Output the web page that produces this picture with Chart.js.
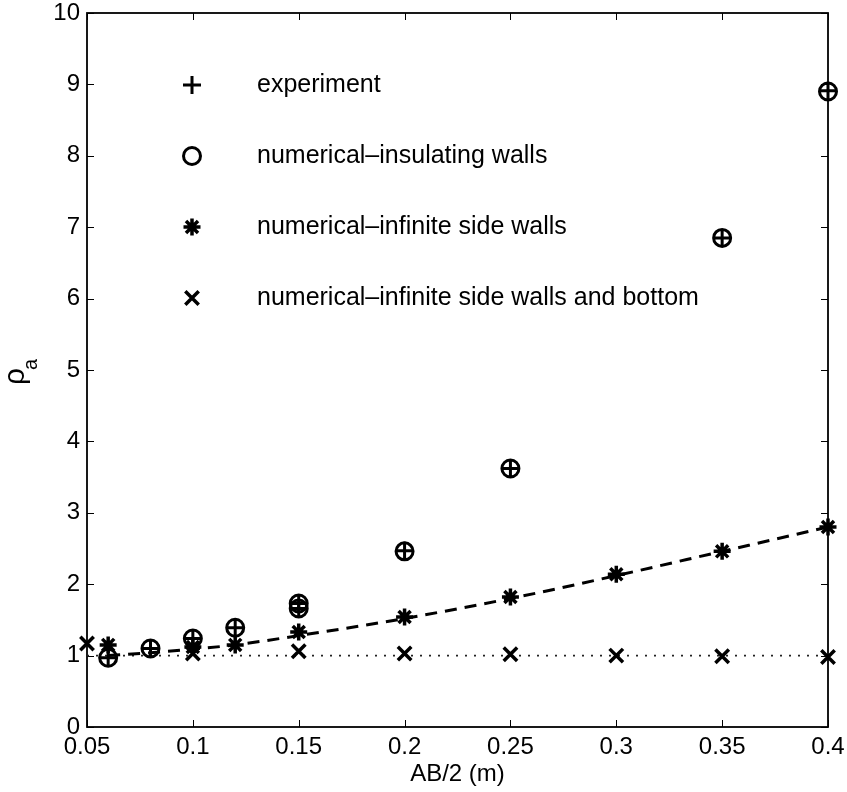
<!DOCTYPE html>
<html>
<head>
<meta charset="utf-8">
<script src="https://cdn.jsdelivr.net/npm/chart.js@4"></script>
<style>
  body { margin: 0; background: #fff; }
  #wrap { width: 847px; height: 792px; }
</style>
</head>
<body>
<div id="wrap"><canvas id="myChartRho"></canvas></div>
<script>
// values
const xTicks = [0.05, 0.1, 0.15, 0.2, 0.25, 0.3, 0.35, 0.4];
const yTicks = [0, 1, 2, 3, 4, 5, 6, 7, 8, 9, 10];

const expX = [0.06, 0.08, 0.1, 0.12, 0.15, 0.15, 0.2, 0.25, 0.35, 0.4];
const expY = [0.97, 1.10, 1.24, 1.39, 1.73, 1.66, 2.47, 3.62, 6.85, 8.91];

const insX = [0.06, 0.08, 0.1, 0.12, 0.15, 0.15, 0.2, 0.25, 0.35, 0.4];
const insY = [0.97, 1.10, 1.24, 1.39, 1.73, 1.66, 2.46, 3.62, 6.85, 8.90];

const sideX = [0.06, 0.1, 0.12, 0.15, 0.2, 0.25, 0.3, 0.35, 0.4];
const sideY = [1.15, 1.12, 1.15, 1.33, 1.54, 1.82, 2.14, 2.46, 2.80];

const bottomX = [0.05, 0.1, 0.15, 0.2, 0.25, 0.3, 0.35, 0.4];
const bottomY = [1.17, 1.03, 1.06, 1.03, 1.02, 1.00, 0.99, 0.98];

const curveX = [0.06, 0.08, 0.1, 0.12, 0.15, 0.2, 0.25, 0.3, 0.35, 0.4];
const curveY = [1.00, 1.04, 1.09, 1.15, 1.28, 1.52, 1.80, 2.12, 2.46, 2.80];

const flatX = [0.05, 0.4];
const flatY = [1, 1];

const legendNames = [
  "experiment",
  "numerical\u2013insulating walls",
  "numerical\u2013infinite side walls",
  "numerical\u2013infinite side walls and bottom",
];

const pts = (xs, ys) => xs.map((x, i) => ({ x: x, y: ys[i] }));
const FONT = "'Liberation Sans', Arial, Helvetica, sans-serif";

const markers = [
  { style: "cross", radius: 9, width: 3 },
  { style: "circle", radius: 8.5, width: 3 },
  { style: "star", radius: 8.5, width: 3.5 },
  { style: "crossRot", radius: 9.5, width: 3.5 },
];

function markerSet(label, xs, ys, m) {
  return {
    label: label,
    data: pts(xs, ys),
    pointStyle: m.style,
    pointRadius: m.radius,
    pointBorderWidth: m.width,
    pointBorderColor: "#000",
    pointBackgroundColor: "rgba(0,0,0,0)",
    showLine: false,
    clip: false,
  };
}

// box, inward ticks, legend and y title
const framePlugin = {
  id: "frame",
  beforeDatasetsDraw(chart) {
    const { ctx, chartArea: a, scales } = chart;
    ctx.save();
    ctx.strokeStyle = "#000";
    ctx.lineWidth = 1;
    ctx.beginPath();
    xTicks.forEach((v) => {
      const px = Math.round(scales.x.getPixelForValue(v)) + 0.5;
      ctx.moveTo(px, a.bottom); ctx.lineTo(px, a.bottom - 7);
      ctx.moveTo(px, a.top); ctx.lineTo(px, a.top + 7);
    });
    yTicks.forEach((v) => {
      const py = Math.round(scales.y.getPixelForValue(v)) + 0.5;
      ctx.moveTo(a.left, py); ctx.lineTo(a.left + 7, py);
      ctx.moveTo(a.right, py); ctx.lineTo(a.right - 7, py);
    });
    ctx.stroke();
    ctx.lineWidth = 1.8;
    ctx.strokeRect(a.left, a.top, a.right - a.left, a.bottom - a.top);
    ctx.restore();
  },
  afterDraw(chart) {
    const { ctx } = chart;
    ctx.save();
    ctx.fillStyle = "#000";
    ctx.strokeStyle = "#000";
    ctx.font = "25px " + FONT;
    ctx.textBaseline = "middle";
    legendNames.forEach((name, i) => {
      const y = 85 + i * 71;
      const m = markers[i];
      ctx.lineWidth = m.width;
      ctx.fillStyle = "rgba(0,0,0,0)";
      Chart.helpers.drawPoint(ctx, { pointStyle: m.style, radius: m.radius, rotation: 0, borderWidth: m.width }, 192, y);
      ctx.fillStyle = "#000";
      ctx.fillText(name, 257, y);
    });
    // y axis title: rho with subscript a
    ctx.rotate(-Math.PI / 2);
    ctx.textBaseline = "alphabetic";
    ctx.font = "30px " + FONT;
    ctx.fillText("\u03c1", -385, 24);
    ctx.font = "20px " + FONT;
    ctx.fillText("a", -370, 37);
    ctx.restore();
  },
};

const ctx = document.getElementById("myChartRho").getContext("2d");
new Chart(ctx, {
  type: "scatter",
  data: {
    datasets: [
      markerSet(legendNames[0], expX, expY, markers[0]),
      markerSet(legendNames[1], insX, insY, markers[1]),
      markerSet(legendNames[2], sideX, sideY, markers[2]),
      markerSet(legendNames[3], bottomX, bottomY, markers[3]),
      {
        label: "curve",
        data: pts(curveX, curveY),
        showLine: true,
        borderColor: "#000",
        borderWidth: 3,
        borderDash: [12, 8],
        pointRadius: 0,
        cubicInterpolationMode: "monotone",
      },
      {
        label: "flat",
        data: pts(flatX, flatY),
        showLine: true,
        borderColor: "#222",
        borderWidth: 1.8,
        borderDash: [2, 7],
        pointRadius: 0,
      },
    ],
  },
  options: {
    responsive: true,
    maintainAspectRatio: false,
    animation: false,
    events: [],
    layout: { padding: { left: 0, top: 12, right: 19, bottom: 0 } },
    plugins: {
      legend: { display: false },
      tooltip: { enabled: false },
    },
    scales: {
      x: {
        type: "linear",
        min: 0.05,
        max: 0.4,
        afterBuildTicks: (s) => { s.ticks = xTicks.map((v) => ({ value: v })); },
        afterFit: (s) => { s.height = 65; s.paddingLeft = 0; s.paddingRight = 0; },
        grid: { display: false, drawTicks: false },
        border: { display: false },
        ticks: {
          padding: 6,
          maxRotation: 0,
          autoSkip: false,
          color: "#000",
          font: { family: FONT, size: 24 },
          callback: (v) => String(Number(v.toFixed(2))),
        },
        title: {
          display: true,
          text: "AB/2 (m)",
          color: "#000",
          font: { family: FONT, size: 24 },
          padding: { top: 0, bottom: 3 },
        },
      },
      y: {
        type: "linear",
        min: 0,
        max: 10,
        afterBuildTicks: (s) => { s.ticks = yTicks.map((v) => ({ value: v })); },
        afterFit: (s) => { s.width = 87; s.paddingTop = 0; s.paddingBottom = 0; },
        grid: { display: false, drawTicks: false },
        border: { display: false },
        ticks: {
          padding: 7,
          color: "#000",
          font: { family: FONT, size: 24 },
        },
      },
    },
  },
  plugins: [framePlugin],
});
</script>
</body>
</html>
